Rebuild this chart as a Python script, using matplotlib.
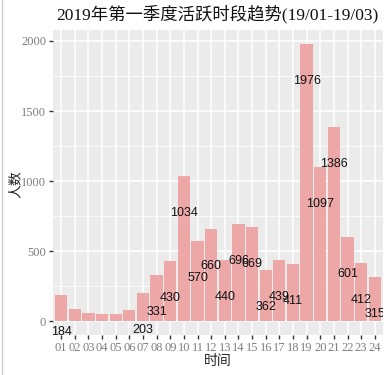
import matplotlib
matplotlib.use("Agg")
import matplotlib.pyplot as plt
from matplotlib.transforms import offset_copy
import numpy as np

# datos
horas = ["01", "02", "03", "04", "05", "06", "07", "08", "09", "10", "11", "12",
         "13", "14", "15", "16", "17", "18", "19", "20", "21", "22", "23", "24"]
personas = [184, 86, 58, 51, 51, 78, 203, 331, 430, 1034, 570, 660,
            440, 696, 669, 362, 439, 411, 1976, 1097, 1386, 601, 412, 315]
yticks = [0, 500, 1000, 1500, 2000]

serif_cjk = ["Liberation Serif", "Noto Sans CJK SC"]

fig = plt.figure(figsize=(3.91, 3.75), dpi=100)
ax = fig.add_axes([0.1355, 0.1067, 0.844, 0.812])
ax.set_facecolor("#EBEBEB")

x = np.arange(1, len(horas) + 1)
ax.bar(x, personas, width=0.9, color="#EDA7A7", zorder=2)

# etiquetas desplazadas hacia abajo (como vjust en ggplot), recortadas al panel
trans = offset_copy(ax.transData, fig=fig, x=0, y=-37, units="dots")
for xi, v in zip(x, personas):
    t = ax.text(xi, v, str(v), transform=trans, ha="center", va="center",
                fontsize=9, family="Liberation Sans", color="#111111", zorder=3,
                clip_on=True)
    t.set_clip_path(ax.patch)

ymax = max(personas)
ax.set_ylim(-0.05 * ymax, 1.05 * ymax)
ax.set_xlim(0.4, len(horas) + 0.6)

ax.set_xticks(x)
ax.set_xticklabels(horas)
ax.set_yticks(yticks)
ax.set_yticks([250, 750, 1250, 1750], minor=True)
ax.grid(True, which="major", color="white", linewidth=1.1, zorder=0)
ax.grid(True, which="minor", axis="y", color="white", linewidth=0.55, zorder=0)
ax.set_axisbelow(True)
for s in ax.spines.values():
    s.set_visible(False)
ax.tick_params(which="major", length=3, width=1, color="#333333",
               labelcolor="#7F7F7F", labelsize=9, pad=2)
ax.tick_params(which="minor", length=0)
for lab in ax.get_xticklabels() + ax.get_yticklabels():
    lab.set_family("Liberation Serif")

fig.text(0.555, 0.962, "2019年第一季度活跃时段趋势(19/01-19/03)", ha="center",
         va="center", fontsize=12.5, family=serif_cjk, color="#111111")
fig.text(0.558, 0.035, "时间", ha="center", va="center", fontsize=10,
         family=serif_cjk, color="#222222")
fig.text(0.042, 0.51, "人数", ha="center", va="center", rotation=90,
         fontsize=10, family=serif_cjk, color="#222222")

# borde izquierdo de la captura
fig.add_artist(plt.Line2D([0.006, 0.006], [0, 1], color="#D0D0D0", linewidth=1))

fig.savefig("out.png", dpi=100)
